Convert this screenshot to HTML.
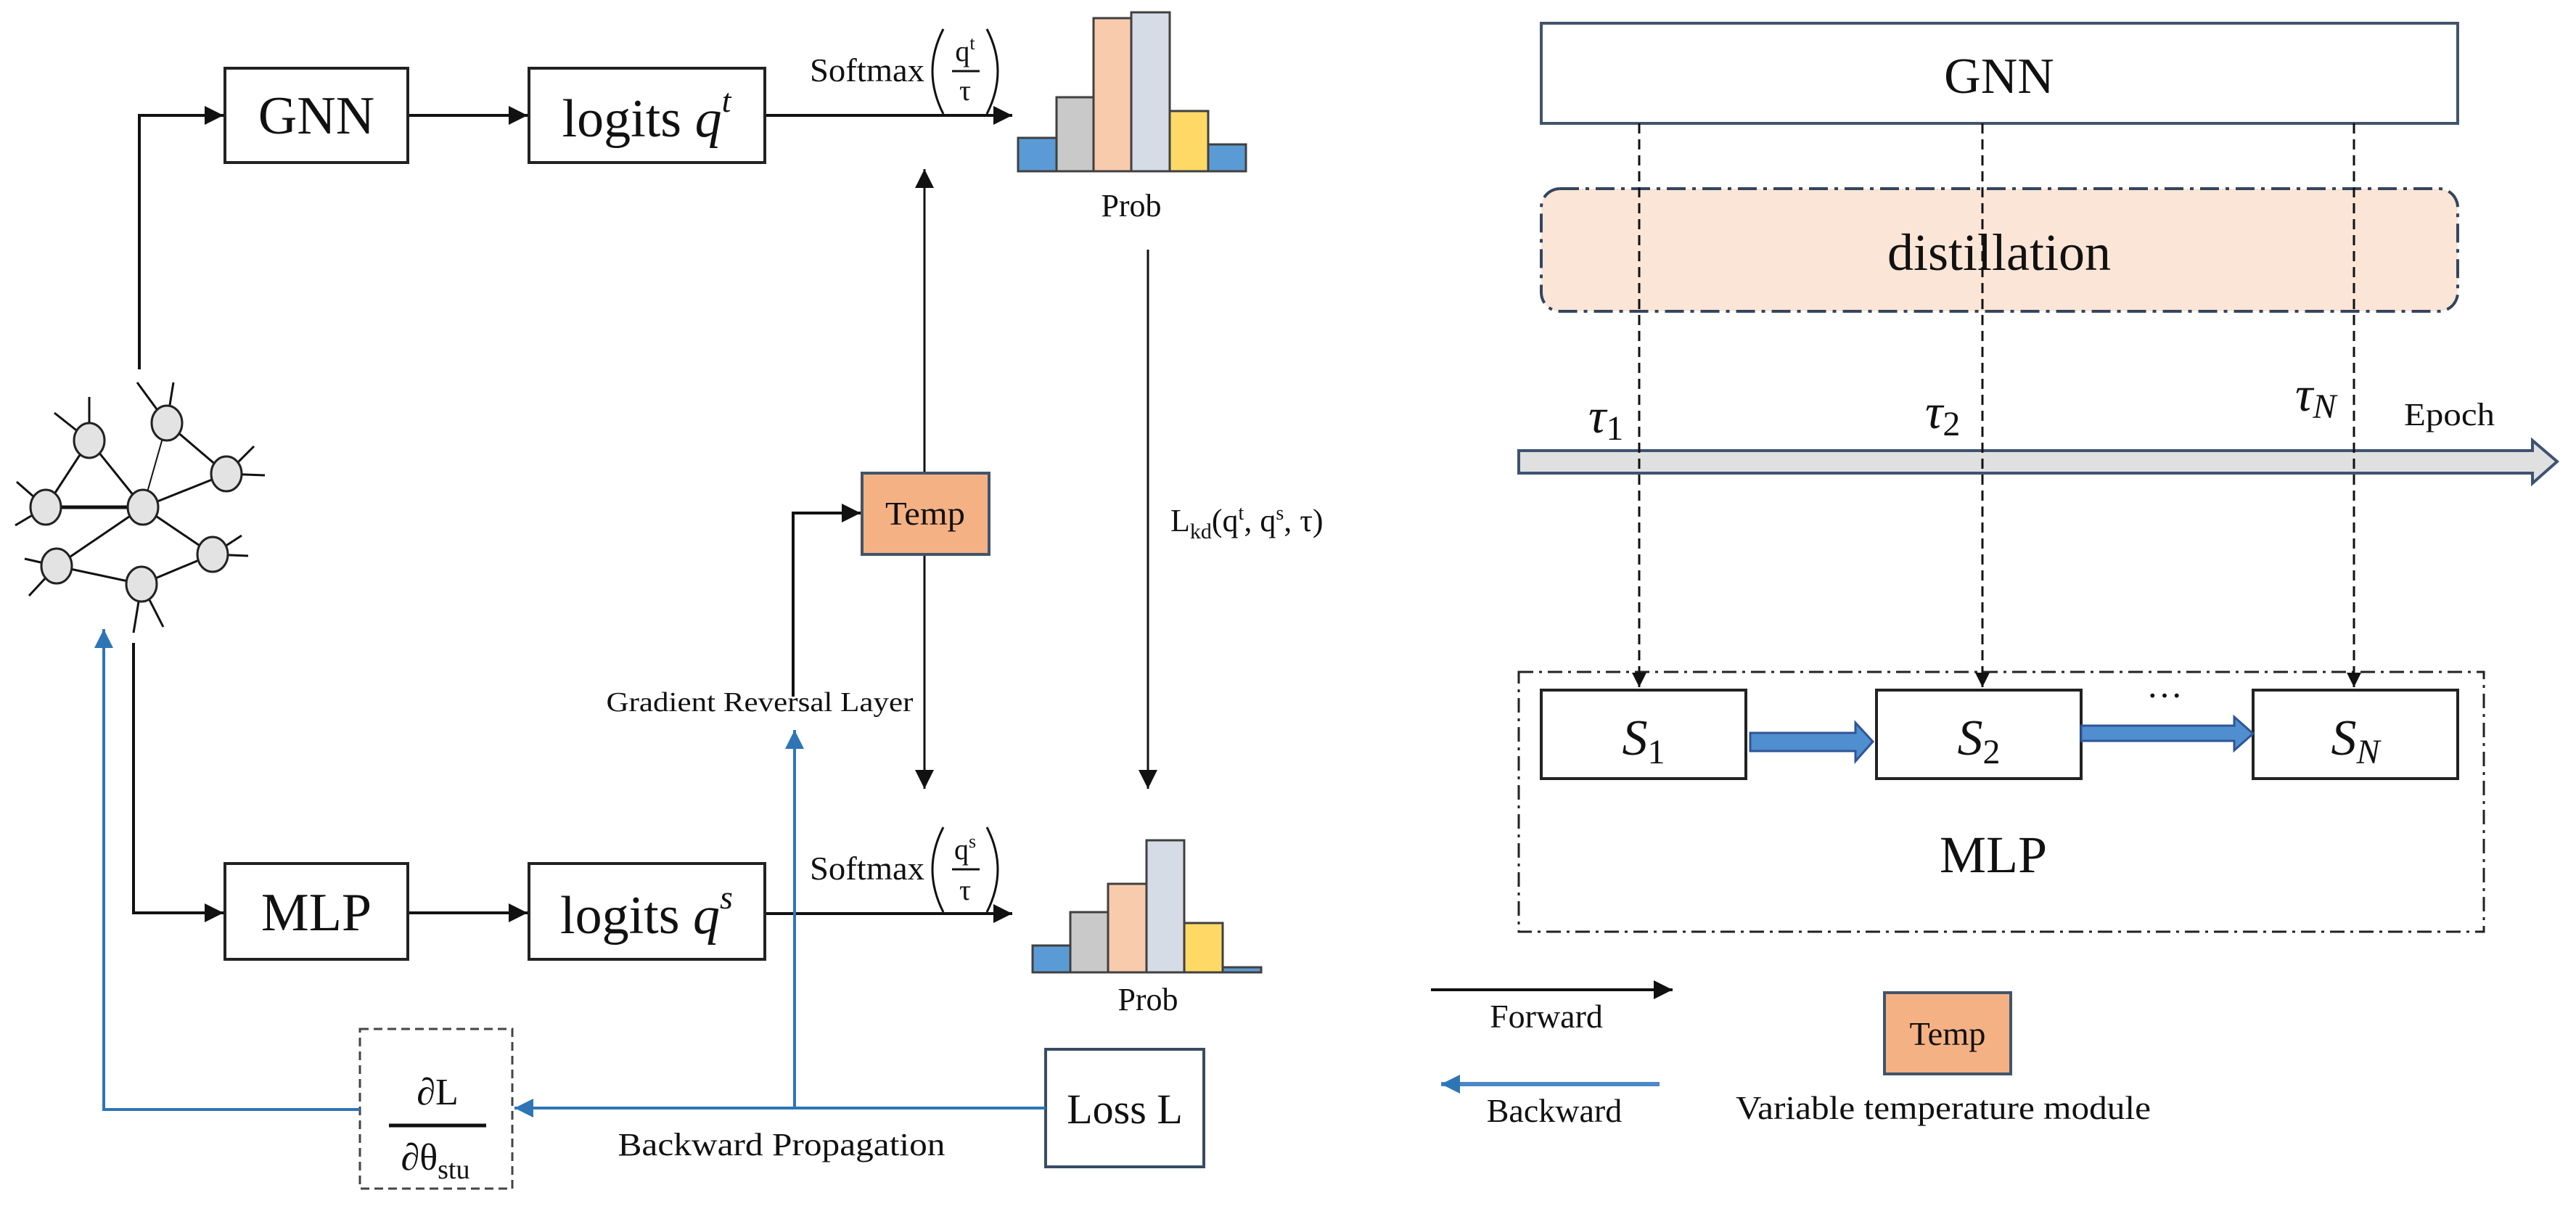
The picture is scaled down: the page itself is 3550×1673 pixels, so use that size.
<!DOCTYPE html>
<html><head><meta charset="utf-8"><style>
html,body{margin:0;padding:0;background:#fff;}
svg{display:block;}
text{font-family:"Liberation Serif",serif;fill:#111;}
</style></head><body>
<svg width="3550" height="1673" viewBox="0 0 3550 1673" xmlns="http://www.w3.org/2000/svg">
<defs>
<marker id="ak" markerUnits="userSpaceOnUse" markerWidth="30" markerHeight="30" refX="26" refY="13" orient="auto"><path d="M0,0 L26,13 L0,26 Z" fill="#111"/></marker>
<marker id="ab" markerUnits="userSpaceOnUse" markerWidth="30" markerHeight="30" refX="26" refY="13" orient="auto"><path d="M0,0 L26,13 L0,26 Z" fill="#2e75b6"/></marker>
<marker id="as" markerUnits="userSpaceOnUse" markerWidth="24" markerHeight="24" refX="20" refY="10" orient="auto"><path d="M0,0 L20,10 L0,20 Z" fill="#111"/></marker>
</defs>

<!-- graph -->
<g stroke="#111" stroke-width="3" fill="none">
<line x1="123" y1="607" x2="197" y2="699"/>
<line x1="230" y1="583" x2="197" y2="699" stroke-width="2"/>
<line x1="312" y1="653" x2="230" y2="583"/>
<line x1="312" y1="653" x2="197" y2="699"/>
<line x1="63" y1="699" x2="123" y2="607"/>
<line x1="63" y1="699" x2="197" y2="699" stroke-width="5"/>
<line x1="197" y1="699" x2="293" y2="764"/>
<line x1="197" y1="699" x2="78" y2="780"/>
<line x1="78" y1="780" x2="195" y2="805"/>
<line x1="195" y1="805" x2="293" y2="764"/>
<line x1="123" y1="607" x2="75" y2="569"/><line x1="123" y1="607" x2="123" y2="547"/>
<line x1="230" y1="583" x2="189" y2="527"/><line x1="230" y1="583" x2="239" y2="527"/>
<line x1="312" y1="653" x2="350" y2="615"/><line x1="312" y1="653" x2="365" y2="655"/>
<line x1="63" y1="699" x2="23" y2="664"/><line x1="63" y1="699" x2="21" y2="724"/>
<line x1="293" y1="764" x2="333" y2="738"/><line x1="293" y1="764" x2="342" y2="766"/>
<line x1="78" y1="780" x2="34" y2="770"/><line x1="78" y1="780" x2="40" y2="821"/>
<line x1="195" y1="805" x2="184" y2="872"/><line x1="195" y1="805" x2="225" y2="864"/>
</g>
<g fill="#e3e3e3" stroke="#222" stroke-width="3">
<ellipse cx="123" cy="607" rx="21" ry="24"/><ellipse cx="230" cy="583" rx="21" ry="24"/>
<ellipse cx="312" cy="653" rx="21" ry="24"/><ellipse cx="63" cy="699" rx="21" ry="24"/>
<ellipse cx="197" cy="699" rx="21" ry="24"/><ellipse cx="293" cy="764" rx="21" ry="24"/>
<ellipse cx="78" cy="780" rx="21" ry="24"/><ellipse cx="195" cy="805" rx="21" ry="24"/>
</g>

<!-- forward connectors left -->
<g stroke="#111" stroke-width="4" fill="none">
<polyline points="192,509 192,159 308,159" marker-end="url(#ak)"/>
<line x1="562" y1="159" x2="727" y2="159" marker-end="url(#ak)"/>
<line x1="1054" y1="159" x2="1395" y2="159" marker-end="url(#ak)"/>
<polyline points="184,886 184,1258 308,1258" marker-end="url(#ak)"/>
<line x1="562" y1="1258" x2="727" y2="1258" marker-end="url(#ak)"/>
<line x1="1054" y1="1259" x2="1395" y2="1259" marker-end="url(#ak)"/>
<polyline points="1093,960 1093,707 1186,707" marker-end="url(#ak)"/>
</g>
<g stroke="#111" stroke-width="3" fill="none">
<line x1="1274" y1="652" x2="1274" y2="233" marker-end="url(#ak)"/>
<line x1="1274" y1="764" x2="1274" y2="1087" marker-end="url(#ak)"/>
<line x1="1582" y1="344" x2="1582" y2="1087" marker-end="url(#ak)"/>
</g>

<!-- boxes left -->
<g fill="#fff" stroke="#222" stroke-width="4">
<rect x="310" y="94" width="252" height="130"/>
<rect x="729" y="94" width="325" height="130"/>
<rect x="310" y="1190" width="252" height="132"/>
<rect x="729" y="1190" width="325" height="132"/>
<rect x="1441" y="1446" width="218" height="162" stroke="#3a4b63"/>
</g>
<rect x="496" y="1418" width="210" height="220" fill="#fff" stroke="#444" stroke-width="3" stroke-dasharray="12 7"/>
<rect x="1188" y="652" width="175" height="112" fill="#f4b183" stroke="#41546b" stroke-width="4"/>

<text x="436" y="184" font-size="74" text-anchor="middle">GNN</text>
<text x="891" y="188" font-size="74" text-anchor="middle">logits <tspan font-style="italic">q</tspan><tspan font-style="italic" font-size="46" dy="-34">t</tspan></text>
<text x="436" y="1282" font-size="74" text-anchor="middle">MLP</text>
<text x="891" y="1286" font-size="74" text-anchor="middle">logits <tspan font-style="italic">q</tspan><tspan font-style="italic" font-size="46" dy="-34">s</tspan></text>
<text x="1275" y="723" font-size="46" text-anchor="middle" font-family="Liberation Sans,sans-serif" textLength="110" lengthAdjust="spacingAndGlyphs">Temp</text>
<text x="1550" y="1548" font-size="58" text-anchor="middle">Loss L</text>
<text x="603" y="1522" font-size="52" text-anchor="middle">∂L</text>
<line x1="536" y1="1551" x2="670" y2="1551" stroke="#111" stroke-width="5"/>
<text x="600" y="1612" font-size="52" text-anchor="middle">∂θ<tspan font-size="38" dy="12">stu</tspan></text>

<!-- softmax labels -->
<g>
<text x="1116" y="112" font-size="46" textLength="158" lengthAdjust="spacingAndGlyphs">Softmax</text>
<path d="M1300 40 Q1270 98 1300 157 M1360 40 Q1390 98 1360 157" stroke="#111" stroke-width="3" fill="none"/>
<text x="1330" y="84" font-size="40" text-anchor="middle">q<tspan font-size="26" dy="-16">t</tspan></text>
<line x1="1312" y1="98" x2="1350" y2="98" stroke="#111" stroke-width="3"/>
<text x="1330" y="138" font-size="40" text-anchor="middle">τ</text>
<text x="1116" y="1212" font-size="46" textLength="158" lengthAdjust="spacingAndGlyphs">Softmax</text>
<path d="M1300 1140 Q1270 1198 1300 1257 M1360 1140 Q1390 1198 1360 1257" stroke="#111" stroke-width="3" fill="none"/>
<text x="1330" y="1184" font-size="40" text-anchor="middle">q<tspan font-size="26" dy="-16">s</tspan></text>
<line x1="1312" y1="1198" x2="1350" y2="1198" stroke="#111" stroke-width="3"/>
<text x="1330" y="1240" font-size="40" text-anchor="middle">τ</text>
</g>

<!-- histograms -->
<g stroke="#404040" stroke-width="3">
<rect x="1403" y="190" width="53" height="46" fill="#5b9bd5"/>
<rect x="1456" y="134" width="51" height="102" fill="#c9c9c9"/>
<rect x="1507" y="25" width="52" height="211" fill="#f8cbad"/>
<rect x="1559" y="17" width="53" height="219" fill="#d6dce5"/>
<rect x="1612" y="153" width="53" height="83" fill="#ffd966"/>
<rect x="1665" y="199" width="52" height="37" fill="#5b9bd5"/>
<rect x="1423" y="1303" width="52" height="37" fill="#5b9bd5"/>
<rect x="1475" y="1257" width="52" height="83" fill="#c9c9c9"/>
<rect x="1527" y="1218" width="53" height="122" fill="#f8cbad"/>
<rect x="1580" y="1158" width="52" height="182" fill="#d6dce5"/>
<rect x="1632" y="1272" width="53" height="68" fill="#ffd966"/>
<rect x="1685" y="1333" width="53" height="7" fill="#5b9bd5"/>
</g>
<text x="1559" y="298" font-size="44" text-anchor="middle">Prob</text>
<text x="1582" y="1392" font-size="44" text-anchor="middle">Prob</text>

<text x="1613" y="732" font-size="44">L<tspan font-size="30" dy="10">kd</tspan><tspan dy="-10">(q</tspan><tspan font-size="28" dy="-16">t</tspan><tspan dy="16">, q</tspan><tspan font-size="28" dy="-16">s</tspan><tspan dy="16">, τ)</tspan></text>
<text x="1047" y="980" font-size="38" text-anchor="middle" textLength="423" lengthAdjust="spacingAndGlyphs">Gradient Reversal Layer</text>
<text x="1077" y="1592" font-size="44" text-anchor="middle" textLength="451" lengthAdjust="spacingAndGlyphs">Backward Propagation</text>

<!-- backward blue -->
<g stroke="#2e75b6" stroke-width="4" fill="none">
<line x1="1441" y1="1527" x2="709" y2="1527" marker-end="url(#ab)"/>
<polyline points="496,1529 143,1529 143,867" marker-end="url(#ab)"/>
<line x1="1095" y1="1529" x2="1095" y2="1006" marker-end="url(#ab)"/>
</g>

<!-- RIGHT -->
<rect x="2124" y="32" width="1263" height="138" fill="#fff" stroke="#41546b" stroke-width="4"/>
<text x="2755" y="128" font-size="70" text-anchor="middle">GNN</text>
<rect x="2124" y="260" width="1263" height="169" rx="26" fill="#fbe5d6" stroke="#34455e" stroke-width="4" stroke-dasharray="26 9 5 9"/>
<text x="2755" y="372" font-size="72" text-anchor="middle" font-family="Liberation Sans,sans-serif" fill="#222">distillation</text>

<rect x="2093" y="926" width="1330" height="358" fill="none" stroke="#222" stroke-width="3" stroke-dasharray="20 8 4 8"/>

<path d="M2093 621 L3490 621 L3490 607 L3524 636 L3490 666 L3490 652 L2093 652 Z" fill="#e0e0e0" stroke="#3e5272" stroke-width="4"/>

<g stroke="#111" stroke-width="3" fill="none" stroke-dasharray="14 8">
<line x1="2259" y1="170" x2="2259" y2="947" marker-end="url(#as)"/>
<line x1="2732" y1="170" x2="2732" y2="947" marker-end="url(#as)"/>
<line x1="3244" y1="170" x2="3244" y2="947" marker-end="url(#as)"/>
</g>

<text x="2189" y="596" font-size="68" font-style="italic">τ<tspan font-style="normal" font-size="48" dy="10">1</tspan></text>
<text x="2653" y="590" font-size="68" font-style="italic">τ<tspan font-style="normal" font-size="48" dy="10">2</tspan></text>
<text x="3163" y="566" font-size="68" font-style="italic">τ<tspan font-size="48" dy="10">N</tspan></text>
<text x="3313" y="586" font-size="44" textLength="125" lengthAdjust="spacingAndGlyphs">Epoch</text>

<g fill="#fff" stroke="#222" stroke-width="4">
<rect x="2124" y="951" width="282" height="122"/>
<rect x="2586" y="951" width="282" height="122"/>
<rect x="3105" y="951" width="282" height="122"/>
</g>
<text x="2265" y="1040" font-size="70" text-anchor="middle" font-style="italic">S<tspan font-style="normal" font-size="48" dy="12">1</tspan></text>
<text x="2727" y="1040" font-size="70" text-anchor="middle" font-style="italic">S<tspan font-style="normal" font-size="48" dy="12">2</tspan></text>
<text x="3246" y="1040" font-size="70" text-anchor="middle" font-style="italic">S<tspan font-size="48" dy="12">N</tspan></text>
<text x="2983" y="975" font-size="50" text-anchor="middle">···</text>
<path d="M2412 1010 L2557 1010 L2557 996 L2581 1022 L2557 1049 L2557 1035 L2412 1035 Z" fill="#4f8fd0" stroke="#2f5597" stroke-width="3"/>
<path d="M2868 1000 L3079 1000 L3079 988 L3105 1011 L3079 1034 L3079 1021 L2868 1021 Z" fill="#4f8fd0" stroke="#2f5597" stroke-width="3"/>
<text x="2747" y="1202" font-size="72" text-anchor="middle">MLP</text>

<!-- legend -->
<line x1="1972" y1="1364" x2="2305" y2="1364" stroke="#111" stroke-width="4" marker-end="url(#ak)"/>
<text x="2131" y="1416" font-size="46" text-anchor="middle">Forward</text>
<line x1="2287" y1="1494" x2="1986" y2="1494" stroke="#4a88c8" stroke-width="6" marker-end="url(#ab)"/>
<text x="2142" y="1546" font-size="46" text-anchor="middle">Backward</text>
<rect x="2597" y="1368" width="174" height="112" fill="#f4b183" stroke="#41546b" stroke-width="4"/>
<text x="2684" y="1440" font-size="46" text-anchor="middle" textLength="105" lengthAdjust="spacingAndGlyphs">Temp</text>
<text x="2678" y="1542" font-size="46" text-anchor="middle" textLength="572" lengthAdjust="spacingAndGlyphs">Variable temperature module</text>
</svg>
</body></html>
